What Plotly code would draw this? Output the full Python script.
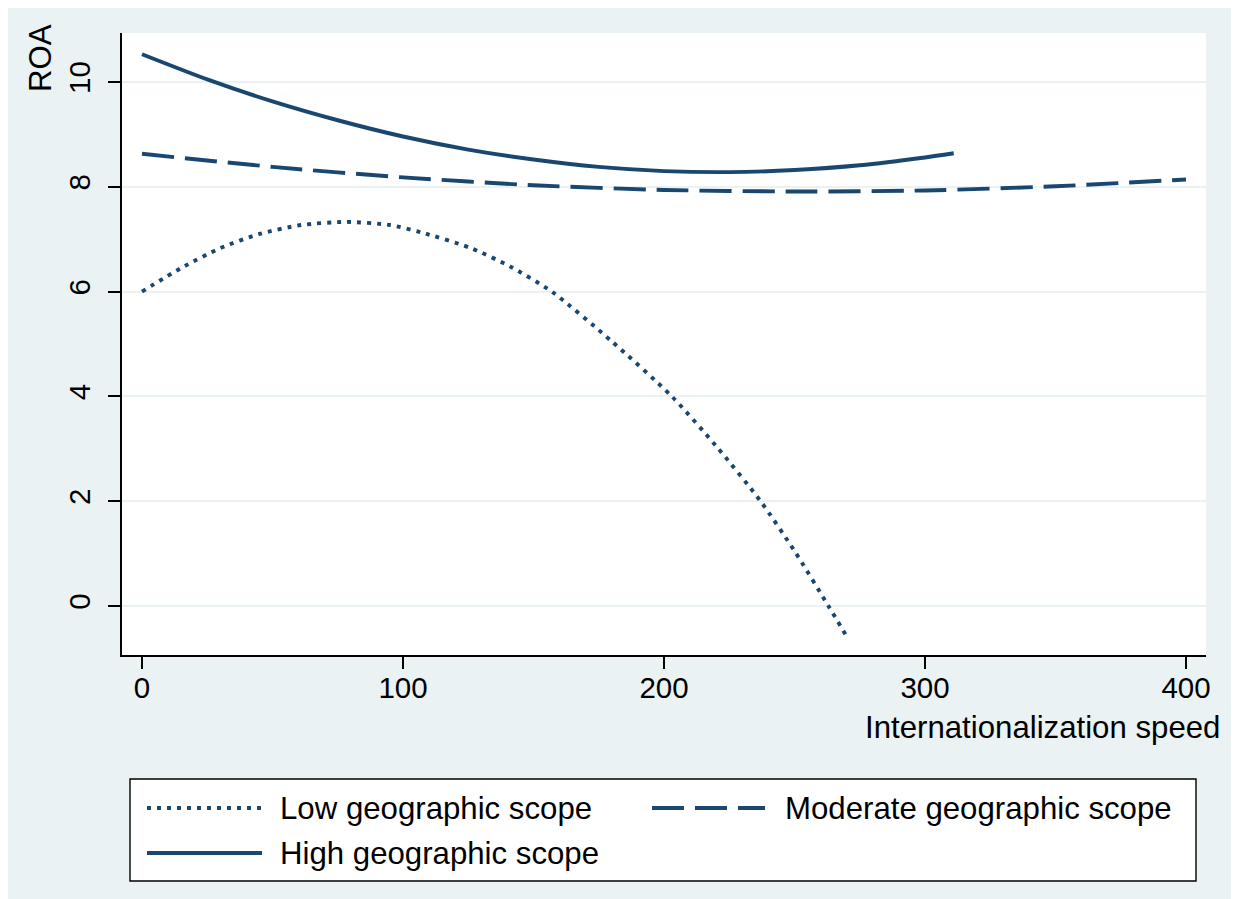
import plotly.graph_objects as go

# ---- data ----
series_names = ["Low geographic scope", "Moderate geographic scope", "High geographic scope"]

low_x = [0, 15, 30, 45, 61, 78, 95, 107, 126, 141, 157, 180, 203, 220, 237, 250, 263, 270]
low_roa = [6.00, 6.45, 6.83, 7.10, 7.27, 7.33, 7.27, 7.13, 6.83, 6.48, 6.00, 5.05, 4.00, 3.05, 2.00, 1.05, 0.00, -0.58]

mod_x = [0, 50, 100, 150, 200, 250, 300, 350, 400]
mod_roa = [8.63, 8.38, 8.18, 8.03, 7.94, 7.91, 7.93, 8.01, 8.14]

high_x = [0, 25, 50, 75, 100, 125, 150, 175, 200, 225, 250, 275, 300, 311]
high_roa = [10.53, 10.05, 9.63, 9.27, 8.96, 8.71, 8.52, 8.38, 8.30, 8.28, 8.32, 8.41, 8.56, 8.64]

x_ticks = [0, 100, 200, 300, 400]
y_ticks = [0, 2, 4, 6, 8, 10]
x_title = "Internationalization speed"
y_title = "ROA"

# ---- style ----
NAVY = "#1A476F"
BG = "#EAF2F3"
FONT = "Liberation Sans, Arial, Helvetica, sans-serif"
LW = 3.9
DASHES = ["4px,6px", "32px,11px", "solid"]
TXT = 31.2

# the page body adds an 8px offset; size the figure so the plot lands where the reference has it
OFF = 8
W, H = 1239 - OFF, 899 - OFF
PLOT_L, PLOT_T, PLOT_R, PLOT_B = 122, 33, 1206, 655   # page pixels of the plot area
L, T = PLOT_L - OFF, PLOT_T - OFF
R, B = W - (PLOT_R - OFF), H - (PLOT_B - OFF)
PW, PH = PLOT_R - PLOT_L, PLOT_B - PLOT_T


def px_x(p):
    return (p - PLOT_L) / PW


def px_y(p):
    return (PLOT_B - p) / PH


fig = go.Figure()
for xs, ys, name, dash in [
    (low_x, low_roa, series_names[0], DASHES[0]),
    (mod_x, mod_roa, series_names[1], DASHES[1]),
    (high_x, high_roa, series_names[2], DASHES[2]),
]:
    fig.add_trace(go.Scatter(
        x=xs, y=ys, mode="lines", name=name, showlegend=False,
        line=dict(color=NAVY, width=LW, dash=dash, shape="spline", smoothing=0.7),
        hoverinfo="x+y+name",
    ))

fig.update_layout(
    width=W, height=H,
    margin=dict(l=L, r=R, t=T, b=B, pad=0),
    paper_bgcolor=BG, plot_bgcolor="white",
    font=dict(family=FONT, color="black", size=29),
    showlegend=False,
)

fig.update_xaxes(
    range=[-7.66, 407.66], tickvals=x_ticks, ticktext=[str(v) for v in x_ticks],
    showgrid=False, zeroline=False,
    showline=True, linecolor="black", linewidth=1.6,
    ticks="outside", ticklen=12, tickwidth=1.6, tickcolor="black",
    tickfont=dict(size=29.5), ticklabelstandoff=-6,
)
fig.update_yaxes(
    range=[-0.935, 10.935], tickvals=y_ticks, ticktext=[str(v) for v in y_ticks],
    showgrid=True, gridcolor=BG, gridwidth=2, zeroline=False,
    showline=True, linecolor="black", linewidth=1.6,
    ticks="outside", ticklen=12, tickwidth=1.6, tickcolor="black",
    tickangle=-90, tickfont=dict(size=29.5), ticklabelstandoff=6,
)

annotations = [
    dict(text=x_title, xref="paper", yref="paper", x=px_x(1222), y=px_y(727),
         xanchor="right", yanchor="middle", showarrow=False, font=dict(size=TXT)),
    dict(text=y_title, xref="paper", yref="paper", x=px_x(40), y=px_y(58),
         xanchor="center", yanchor="middle", textangle=-90, showarrow=False,
         font=dict(size=TXT)),
]

shapes = [
    dict(type="rect", xref="paper", yref="paper",
         x0=px_x(130), x1=px_x(1196), y0=px_y(881), y1=px_y(779),
         line=dict(color="black", width=1.4), fillcolor="white", layer="below"),
]

legend_items = [
    (series_names[0], DASHES[0], 147, 262, 278, 808),
    (series_names[1], DASHES[1], 652, 765, 783, 808),
    (series_names[2], DASHES[2], 147, 262, 278, 853),
]
for name, dash, sx0, sx1, tx, ty in legend_items:
    shapes.append(dict(type="line", xref="paper", yref="paper",
                       x0=px_x(sx0), x1=px_x(sx1), y0=px_y(ty), y1=px_y(ty),
                       line=dict(color=NAVY, width=LW, dash=dash)))
    annotations.append(dict(text=name, xref="paper", yref="paper", x=px_x(tx), y=px_y(ty),
                            xanchor="left", yanchor="middle", showarrow=False,
                            font=dict(size=TXT)))

fig.update_layout(annotations=annotations, shapes=shapes)

fig.write_html("out.html")
